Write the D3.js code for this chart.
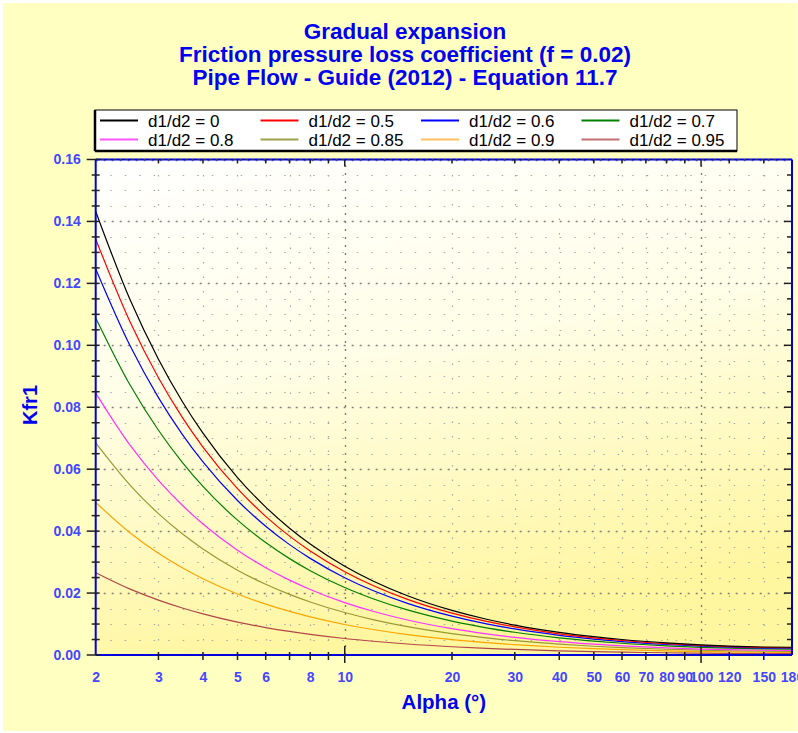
<!DOCTYPE html>
<html>
<head>
<meta charset="utf-8">
<script src="https://cdn.jsdelivr.net/npm/d3@7"></script>
<style>
  html, body { margin: 0; padding: 0; background: #ffffff; }
  svg { display: block; }
  text { font-family: Arial, "Liberation Sans", sans-serif; }
</style>
</head>
<body>
<svg id="chart" width="798" height="733"></svg>
<script>
// ---------------- DATA ----------------
const titleLines = [
  "Gradual expansion",
  "Friction pressure loss coefficient (f = 0.02)",
  "Pipe Flow - Guide (2012) - Equation 11.7"
];
const xAxisTitle = "Alpha (°)";
const yAxisTitle = "Kfr1";

const seriesNames = [
  "d1/d2 = 0", "d1/d2 = 0.5", "d1/d2 = 0.6", "d1/d2 = 0.7",
  "d1/d2 = 0.8", "d1/d2 = 0.85", "d1/d2 = 0.9", "d1/d2 = 0.95"
];

// Alpha (degrees) sample points
const alphaValues = [2, 2.5, 3, 3.5, 4, 5, 6, 7, 8, 10, 12, 15, 20, 25, 30, 40, 50, 60, 80, 100, 120, 150, 180];

// Kfr1 values for each d1/d2 series
const kfr_0    = [0.14325, 0.11460, 0.09550, 0.08187, 0.07163, 0.05731, 0.04777, 0.04095, 0.03584, 0.02868, 0.02392, 0.01915, 0.01440, 0.01155, 0.00966, 0.00731, 0.00592, 0.00500, 0.00389, 0.00326, 0.00289, 0.00259, 0.00250];
const kfr_050  = [0.13430, 0.10744, 0.08953, 0.07675, 0.06715, 0.05373, 0.04478, 0.03839, 0.03360, 0.02689, 0.02243, 0.01795, 0.01350, 0.01083, 0.00906, 0.00685, 0.00555, 0.00469, 0.00365, 0.00306, 0.00271, 0.00243, 0.00234];
const kfr_060  = [0.12468, 0.09975, 0.08312, 0.07126, 0.06235, 0.04988, 0.04158, 0.03564, 0.03120, 0.02496, 0.02082, 0.01667, 0.01253, 0.01005, 0.00841, 0.00636, 0.00515, 0.00435, 0.00339, 0.00284, 0.00252, 0.00225, 0.00218];
const kfr_070  = [0.10886, 0.08708, 0.07257, 0.06221, 0.05443, 0.04355, 0.03630, 0.03112, 0.02723, 0.02179, 0.01818, 0.01455, 0.01094, 0.00878, 0.00734, 0.00555, 0.00450, 0.00380, 0.00296, 0.00248, 0.00220, 0.00197, 0.00190];
const kfr_080  = [0.08458, 0.06766, 0.05638, 0.04834, 0.04229, 0.03384, 0.02820, 0.02418, 0.02116, 0.01693, 0.01412, 0.01131, 0.00850, 0.00682, 0.00570, 0.00432, 0.00350, 0.00295, 0.00230, 0.00192, 0.00171, 0.00153, 0.00148];
const kfr_085  = [0.06847, 0.05478, 0.04565, 0.03913, 0.03424, 0.02739, 0.02283, 0.01957, 0.01713, 0.01371, 0.01143, 0.00915, 0.00688, 0.00552, 0.00462, 0.00349, 0.00283, 0.00239, 0.00186, 0.00156, 0.00138, 0.00124, 0.00120];
const kfr_090  = [0.04926, 0.03941, 0.03284, 0.02816, 0.02463, 0.01971, 0.01643, 0.01408, 0.01233, 0.00986, 0.00823, 0.00659, 0.00495, 0.00397, 0.00332, 0.00251, 0.00204, 0.00172, 0.00134, 0.00112, 0.00099, 0.00089, 0.00086];
const kfr_095  = [0.02657, 0.02126, 0.01772, 0.01519, 0.01329, 0.01063, 0.00886, 0.00760, 0.00665, 0.00532, 0.00444, 0.00355, 0.00267, 0.00214, 0.00179, 0.00136, 0.00110, 0.00093, 0.00072, 0.00060, 0.00054, 0.00048, 0.00046];

const seriesValues = [kfr_0, kfr_050, kfr_060, kfr_070, kfr_080, kfr_085, kfr_090, kfr_095];

// Axis ticks
const xTickValues = [2, 3, 4, 5, 6, 7, 8, 9, 10, 20, 30, 40, 50, 60, 70, 80, 90, 100, 120, 150, 180];
const xTickLabels = ["2", "3", "4", "5", "6", "", "8", "", "10", "20", "30", "40", "50", "60", "70", "80", "90", "100", "120", "150", "180"];
const xMajorTicks = [10, 100];
const yTickValues = [0, 0.02, 0.04, 0.06, 0.08, 0.10, 0.12, 0.14, 0.16];
const yTickLabels = ["0.00", "0.02", "0.04", "0.06", "0.08", "0.10", "0.12", "0.14", "0.16"];
const yMinorTickValues = [0.005, 0.01, 0.015, 0.025, 0.03, 0.035, 0.045, 0.05, 0.055, 0.065, 0.07, 0.075, 0.085, 0.09, 0.095, 0.105, 0.11, 0.115, 0.125, 0.13, 0.135, 0.145, 0.15, 0.155];

// ---------------- STYLE ----------------
const seriesColors = ["#000000", "#ff0000", "#0000ff", "#008000", "#ff33ff", "#999933", "#ffa500", "#b04848"];
const legendColors = ["#000000", "#ff0000", "#0000ff", "#008000", "#ff55ff", "#a0a050", "#ffc060", "#c07070"];
const titleColor = "#0000ee";
const labelColor = "#4646ff";
const axisBlue = "#0000dd";

// ---------------- DRAW ----------------
const svg = d3.select("#chart");
const W = 798, H = 733;
const plot = { left: 95.7, right: 792, top: 159.5, bottom: 655 };

const defs = svg.append("defs");
const grad = defs.append("linearGradient").attr("id", "plotGrad")
  .attr("x1", 0).attr("y1", 0).attr("x2", 0.25).attr("y2", 1);
grad.append("stop").attr("offset", "0%").attr("stop-color", "#ffffff");
grad.append("stop").attr("offset", "45%").attr("stop-color", "#fffee8");
grad.append("stop").attr("offset", "100%").attr("stop-color", "#fff6a0");
defs.append("clipPath").attr("id", "plotClip").append("rect")
  .attr("x", plot.left).attr("y", plot.top - 1)
  .attr("width", plot.right - plot.left).attr("height", plot.bottom - plot.top + 1);

// page background
svg.append("rect").attr("x", 0).attr("y", 0).attr("width", W).attr("height", H).attr("fill", "#ffffff");
svg.append("rect").attr("x", 3).attr("y", 3).attr("width", W - 4).attr("height", H - 5).attr("fill", "#ffffc2");

const x = d3.scaleLog().domain([2, 180]).range([plot.left, plot.right]);
const y = d3.scaleLinear().domain([0, 0.16]).range([plot.bottom, plot.top]);

// plot background
svg.append("rect").attr("x", plot.left).attr("y", plot.top)
  .attr("width", plot.right - plot.left).attr("height", plot.bottom - plot.top)
  .attr("fill", "url(#plotGrad)");

// grid
const grid = svg.append("g");
grid.selectAll(".hmin").data(yMinorTickValues).join("line")
  .attr("x1", plot.left).attr("x2", plot.right)
  .attr("y1", d => Math.round(y(d)) + 0.5).attr("y2", d => Math.round(y(d)) + 0.5)
  .attr("stroke", "#a8a8a0").attr("stroke-width", 1.2).attr("stroke-dasharray", "1.5,13");
grid.selectAll(".vmin").data(xTickValues.filter(d => d > 2 && d < 180 && !xMajorTicks.includes(d))).join("line")
  .attr("x1", d => Math.round(x(d)) + 0.5).attr("x2", d => Math.round(x(d)) + 0.5)
  .attr("y1", plot.bottom).attr("y2", plot.top)
  .attr("stroke", "#a8a8a0").attr("stroke-width", 1.2).attr("stroke-dasharray", "1.5,13");
grid.selectAll(".hmaj").data(yTickValues.filter(d => d > 0)).join("line")
  .attr("x1", plot.left).attr("x2", plot.right)
  .attr("y1", d => Math.round(y(d)) + 0.5).attr("y2", d => Math.round(y(d)) + 0.5)
  .attr("stroke", "#808078").attr("stroke-width", 1.4).attr("stroke-dasharray", "2,6");
grid.selectAll(".vmaj").data(xMajorTicks).join("line")
  .attr("x1", d => Math.round(x(d)) + 0.5).attr("x2", d => Math.round(x(d)) + 0.5)
  .attr("y1", plot.bottom).attr("y2", plot.top)
  .attr("stroke", "#808078").attr("stroke-width", 1.4).attr("stroke-dasharray", "2,6");

// curves
const line = d3.line().x(d => x(d[0])).y(d => y(d[1])).curve(d3.curveMonotoneX);
const curves = svg.append("g").attr("clip-path", "url(#plotClip)");
for (let i = seriesValues.length - 1; i >= 0; i--) {
  const pts = alphaValues.map((a, j) => [a, seriesValues[i][j]]);
  curves.append("path").datum(pts).attr("d", line)
    .attr("fill", "none").attr("stroke", seriesColors[i]).attr("stroke-width", 1.2);
}

// frame (blue axes lines)
const frame = svg.append("g").attr("stroke", axisBlue).attr("stroke-width", 2);
frame.append("line").attr("x1", plot.left).attr("x2", plot.right).attr("y1", plot.bottom).attr("y2", plot.bottom);
frame.append("line").attr("x1", plot.left).attr("x2", plot.right).attr("y1", plot.top).attr("y2", plot.top);
frame.append("line").attr("x1", plot.left).attr("x2", plot.left).attr("y1", plot.top).attr("y2", plot.bottom);
frame.append("line").attr("x1", plot.right).attr("x2", plot.right).attr("y1", plot.top).attr("y2", plot.bottom);
svg.append("line").attr("x1", plot.left).attr("x2", plot.right).attr("y1", plot.top).attr("y2", plot.top)
  .attr("stroke", "#404040").attr("stroke-width", 1.2).attr("stroke-dasharray", "2,4");

// ticks
const ticks = svg.append("g").attr("stroke", "#202020").attr("stroke-width", 1.5);
ticks.selectAll(".ly").data(yTickValues).join("line")
  .attr("x1", plot.left - 9).attr("x2", plot.left + 4)
  .attr("y1", d => y(d)).attr("y2", d => y(d));
ticks.selectAll(".lym").data(yMinorTickValues).join("line")
  .attr("x1", plot.left - 4).attr("x2", plot.left + 4)
  .attr("y1", d => y(d)).attr("y2", d => y(d));
ticks.selectAll(".ry").data(yTickValues.filter(d => d > 0 && d < 0.16)).join("line")
  .attr("x1", plot.right - 8).attr("x2", plot.right)
  .attr("y1", d => y(d)).attr("y2", d => y(d));
ticks.selectAll(".rym").data(yMinorTickValues).join("line")
  .attr("x1", plot.right - 5).attr("x2", plot.right)
  .attr("y1", d => y(d)).attr("y2", d => y(d));
ticks.selectAll(".bx").data(xTickValues.filter(d => d > 2 && d < 180)).join("line")
  .attr("x1", d => x(d)).attr("x2", d => x(d))
  .attr("y1", d => xMajorTicks.includes(d) ? plot.bottom - 9 : plot.bottom - 3)
  .attr("y2", d => xMajorTicks.includes(d) ? plot.bottom + 8 : plot.bottom + 5)
  .attr("stroke", d => d > 100 ? axisBlue : "#202020");
ticks.selectAll(".tx").data(xTickValues.filter(d => d > 2 && d < 180)).join("line")
  .attr("x1", d => x(d)).attr("x2", d => x(d))
  .attr("y1", plot.top).attr("y2", d => xMajorTicks.includes(d) ? plot.top + 7 : plot.top + 4);

// tick labels via d3 axes
const yAxis = d3.axisLeft(y).tickValues(yTickValues)
  .tickFormat((d, i) => yTickLabels[i]).tickSize(0).tickPadding(15);
const gy = svg.append("g").attr("transform", `translate(${plot.left},0)`).call(yAxis);
gy.select(".domain").remove();
gy.selectAll("text").attr("fill", labelColor).style("font-size", "14px").style("font-weight", "bold")
  .style("font-family", "Arial, 'Liberation Sans', sans-serif");

const xAxis = d3.axisBottom(x).tickValues(xTickValues)
  .tickFormat((d, i) => xTickLabels[i]).tickSize(0).tickPadding(17);
const gx = svg.append("g").attr("transform", `translate(0,${plot.bottom})`).call(xAxis);
gx.select(".domain").remove();
gx.selectAll("text").attr("fill", labelColor).style("font-size", "14px").style("font-weight", "bold")
  .style("font-family", "Arial, 'Liberation Sans', sans-serif");

// titles
const tg = svg.append("g");
titleLines.forEach((t, i) => {
  tg.append("text").attr("x", 405).attr("y", 38.5 + i * 23)
    .attr("text-anchor", "middle").attr("fill", titleColor)
    .style("font-size", "22.5px").style("font-weight", "bold").text(t);
});

svg.append("text").attr("x", (plot.left + plot.right) / 2).attr("y", 709)
  .attr("text-anchor", "middle").attr("fill", titleColor)
  .style("font-size", "20.5px").style("font-weight", "bold").text(xAxisTitle);
svg.append("text").attr("transform", `translate(37,405) rotate(-90)`)
  .attr("text-anchor", "middle").attr("fill", titleColor)
  .style("font-size", "20px").style("font-weight", "bold").text(yAxisTitle);

// legend
const lg = svg.append("g");
const lgBox = { x: 95, y: 110, w: 642, h: 41 };
lg.append("rect").attr("x", lgBox.x).attr("y", lgBox.y).attr("width", lgBox.w).attr("height", lgBox.h)
  .attr("fill", "#ffffff").attr("stroke", "#000000").attr("stroke-width", 1);
lg.append("line").attr("x1", lgBox.x).attr("x2", lgBox.x).attr("y1", lgBox.y).attr("y2", lgBox.y + lgBox.h)
  .attr("stroke", "#000").attr("stroke-width", 2.5);
lg.append("line").attr("x1", lgBox.x).attr("x2", lgBox.x + lgBox.w).attr("y1", lgBox.y + lgBox.h).attr("y2", lgBox.y + lgBox.h)
  .attr("stroke", "#000").attr("stroke-width", 2.5);
seriesNames.forEach((name, i) => {
  const col = i % 4, row = Math.floor(i / 4);
  const x0 = 100 + col * 160.5;
  const yy = lgBox.y + 10.5 + row * 19;
  lg.append("line").attr("x1", x0).attr("x2", x0 + 38).attr("y1", yy).attr("y2", yy)
    .attr("stroke", legendColors[i]).attr("stroke-width", 2);
  lg.append("text").attr("x", x0 + 48).attr("y", yy + 6).attr("fill", "#000")
    .style("font-size", "17px").text(name);
});
</script>
</body>
</html>
